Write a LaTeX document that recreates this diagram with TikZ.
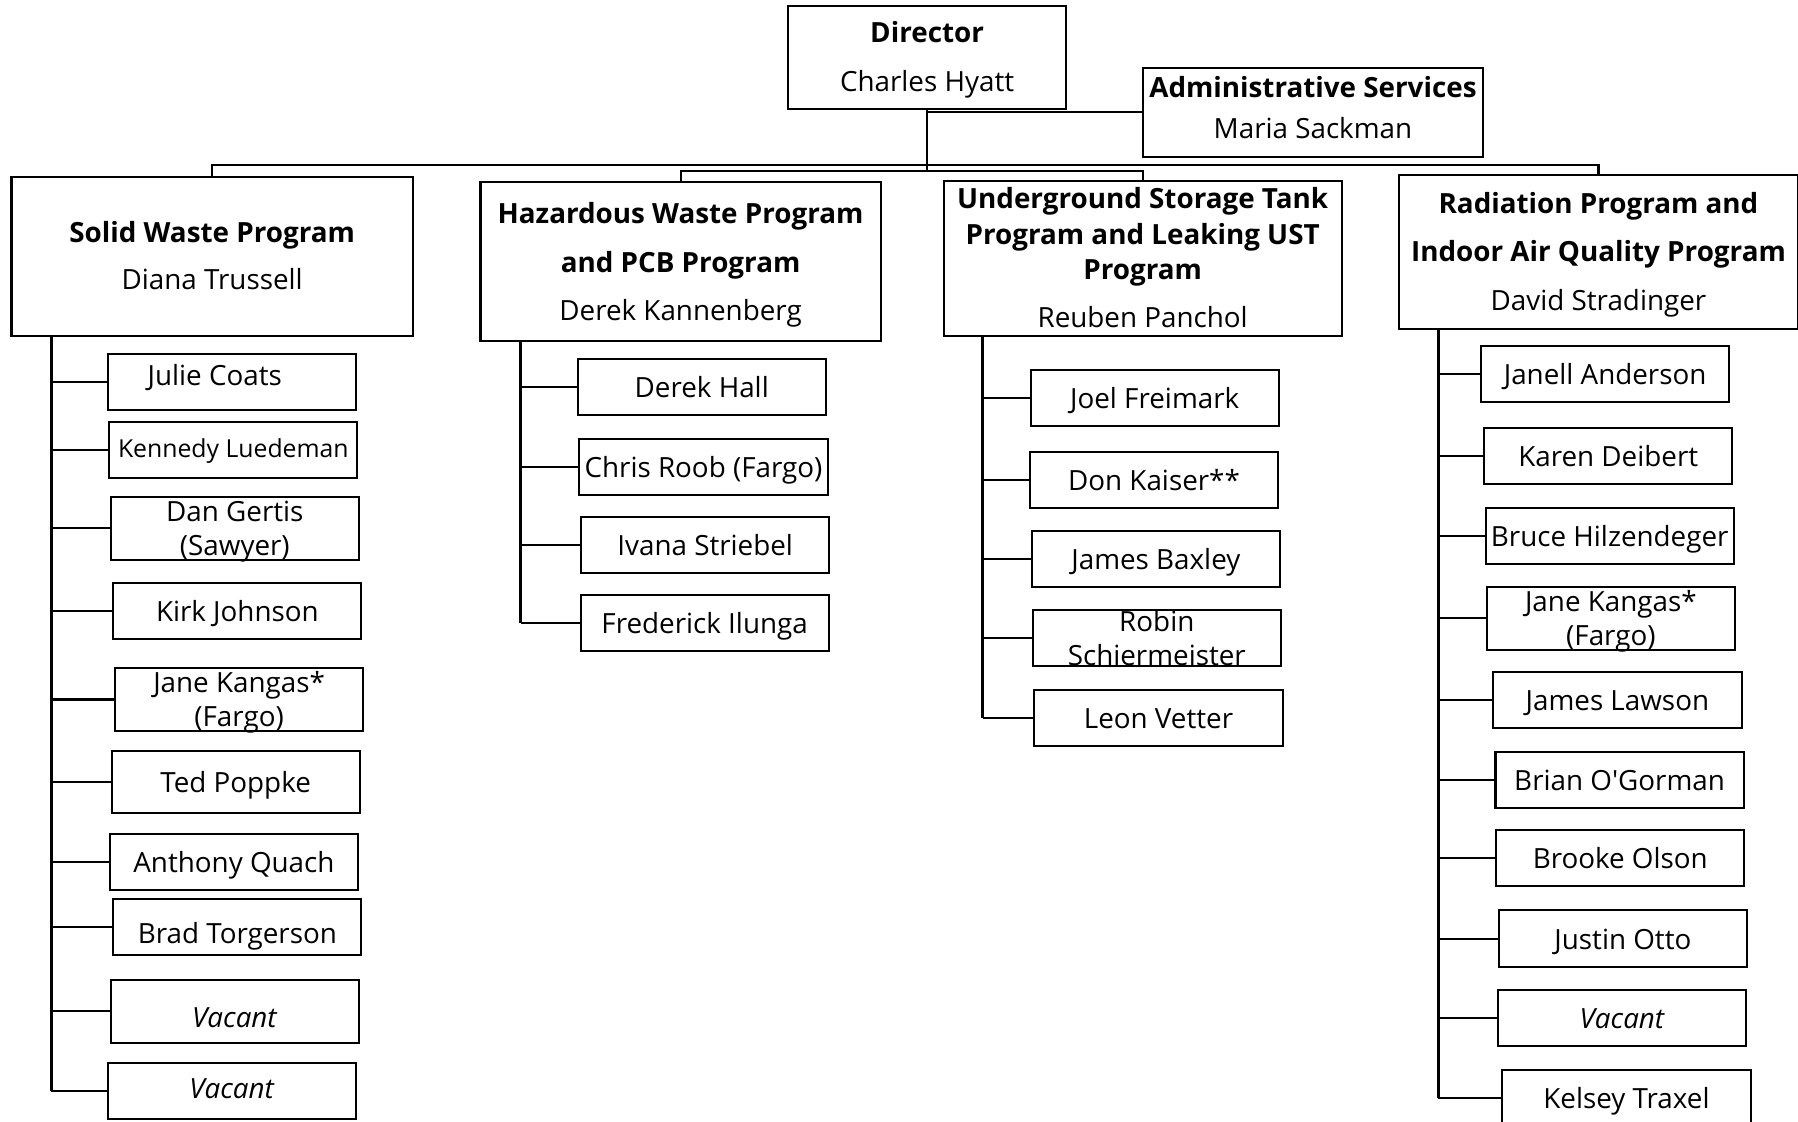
\documentclass[tikz,border=0pt]{standalone}
\usepackage{fontspec}
\setmainfont{Open Sans}
\newcommand{\twoline}[2]{\smash{\begin{tabular}[c]{@{}c@{}}#1\\#2\end{tabular}}}
\newcommand{\headtext}[2]{\raisebox{#1}[\height][\depth]{\begin{tabular}{@{}c@{}}#2\end{tabular}}}
\tikzset{
  head/.style={draw, line width=1pt, inner sep=0pt, font=\fontsize{13.8}{17}\selectfont},
  staff/.style={draw, line width=1pt, inner sep=0pt, minimum width=4.33cm, minimum height=0.98cm,
    text height=12pt, text depth=1.6pt, font=\fontsize{13.8}{17}\selectfont},
  tall/.style={minimum height=1.09cm},
  link/.style={line width=1pt},
  spine/.style={line width=1.5pt}
}

\begin{document}
\begin{tikzpicture}[x=0.02cm, y=-0.02cm]
    \useasboundingbox (0,0) rectangle (1568,978);
    \clip (0,0) rectangle (1568,978);

    \node[head, minimum width=4.86cm, minimum height=1.8cm] (dir) at (808.5,50) {\headtext{-1.4pt}{\textbf{Director}\\[6.9pt]Charles Hyatt}};
    \node[head, minimum width=5.92cm, minimum height=1.56cm] (adm) at (1145,98) {\headtext{0.6pt}{\textbf{Administrative Services}\\[3pt]Maria Sackman}};

    \node[head, minimum width=7cm, minimum height=2.78cm] (sw) at (185,223.5) {\headtext{-1.4pt}{\textbf{Solid Waste Program}\\[6.3pt]Diana Trussell}};
    \node[head, minimum width=6.98cm, minimum height=2.76cm] (hz) at (593.5,228) {\headtext{-2pt}{\textbf{Hazardous Waste Program}\\[7pt]\textbf{and PCB Program}\\[7pt]Derek Kannenberg}};
    \node[head, minimum width=6.94cm, minimum height=2.7cm] (us) at (996.5,225.5) {\headtext{-1.4pt}{\textbf{Underground Storage Tank}\\[0.6pt]\textbf{Program and Leaking UST}\\[0.6pt]\textbf{Program}\\[7pt]Reuben Panchol}};
    \node[head, minimum width=6.96cm, minimum height=2.68cm] (rd) at (1394,220) {\headtext{-1.4pt}{\textbf{Radiation Program and}\\[7pt]\textbf{Indoor Air Quality Program}\\[7pt]David Stradinger}};

    \node[staff, text height=10pt, text depth=6.4pt] (sw1) at (202.3,332.8) {Julie Coats\hspace*{0.6cm}};
    \node[staff, text height=10pt, text depth=3pt, font=\fontsize{12.3}{15}\selectfont] (sw2) at (203.5,392.5) {Kennedy Luedeman};
    \node[staff, tall] (sw3) at (204.8,460.8) {\twoline{Dan Gertis}{(Sawyer)}};
    \node[staff] (sw4) at (207,533) {Kirk Johnson};
    \node[staff, tall] (sw5) at (208.5,610) {\twoline{Jane Kangas*}{(Fargo)}};
    \node[staff, tall] (sw6) at (205.5,682) {Ted Poppke};
    \node[staff] (sw7) at (204,751.5) {Anthony Quach};
    \node[staff, text height=16.2pt, text depth=0pt] (sw8) at (207,808.5) {Brad Torgerson};
    \node[staff, tall, text height=16pt, text depth=0pt] (sw9) at (204.8,882) {\textit{Vacant}};
    \node[staff, text height=10pt, text depth=3pt] (sw10) at (202.3,951.4) {\textit{Vacant}};

    \node[staff] (hz1) at (612,337.8) {Derek Hall};
    \node[staff] (hz2) at (613.5,407.5) {Chris Roob (Fargo)};
    \node[staff] (hz3) at (615,475.5) {Ivana Striebel};
    \node[staff] (hz4) at (614.5,543.5) {Frederick Ilunga};

    \node[staff] (us1) at (1007,347.4) {Joel Freimark};
    \node[staff] (us2) at (1006.4,418.5) {Don Kaiser**};
    \node[staff] (us3) at (1008,487.8) {James Baxley};
    \node[staff] (us4) at (1008.8,556.5) {\twoline{Robin}{Schiermeister}};
    \node[staff] (us5) at (1010.3,625.8) {Leon Vetter};

    \node[staff] (rd1) at (1399.8,326.2) {Janell Anderson};
    \node[staff] (rd2) at (1402.5,397.5) {Karen Deibert};
    \node[staff] (rd3) at (1403.8,467.2) {Bruce Hilzendeger};
    \node[staff, tall] (rd4) at (1404.8,539.2) {\twoline{Jane Kangas*}{(Fargo)}};
    \node[staff] (rd5) at (1410.5,610.5) {James Lawson};
    \node[staff] (rd6) at (1412.4,680.5) {Brian O\textquotesingle Gorman};
    \node[staff] (rd7) at (1413,748.5) {Brooke Olson};
    \node[staff] (rd8) at (1415.3,818.5) {Justin Otto};
    \node[staff] (rd9) at (1414.8,887.5) {\textit{Vacant}};
    \node[staff] (rd10) at (1418.4,957.5) {Kelsey Traxel};

    \coordinate (busA) at (808.5,143.5);
    \coordinate (busB) at (808.5,149.5);
    \draw[link] (dir.south) -- (busB);
    \draw[link] (dir.south |- adm.west) -- (adm.west);
    \draw[link] (sw.north) |- (busA) -| (rd.north);
    \draw[link] (hz.north) |- (busB) -| (us.north);

    \coordinate (swb) at ([xshift=0.71cm]sw.south west);
    \coordinate (hzb) at ([xshift=0.72cm]hz.south west);
    \coordinate (usb) at ([xshift=0.7cm]us.south west);
    \coordinate (rdb) at ([xshift=0.7cm]rd.south west);

    \draw[spine] (swb) -- (swb |- sw10.west);
    \draw[spine] (hzb) -- (hzb |- hz4.west);
    \draw[spine] (usb) -- (usb |- us5.west);
    \draw[spine] (rdb) -- (rdb |- rd10.west);

    \draw[link] (swb |- sw1.west) -- (sw1.west) (swb |- sw2.west) -- (sw2.west)
        (swb |- sw3.west) -- (sw3.west) (swb |- sw4.west) -- (sw4.west)
        (swb |- sw5.west) -- (sw5.west) (swb |- sw6.west) -- (sw6.west)
        (swb |- sw7.west) -- (sw7.west) (swb |- sw8.west) -- (sw8.west)
        (swb |- sw9.west) -- (sw9.west) (swb |- sw10.west) -- (sw10.west);
    \draw[link] (hzb |- hz1.west) -- (hz1.west) (hzb |- hz2.west) -- (hz2.west)
        (hzb |- hz3.west) -- (hz3.west) (hzb |- hz4.west) -- (hz4.west);
    \draw[link] (usb |- us1.west) -- (us1.west) (usb |- us2.west) -- (us2.west)
        (usb |- us3.west) -- (us3.west) (usb |- us4.west) -- (us4.west)
        (usb |- us5.west) -- (us5.west);
    \draw[link] (rdb |- rd1.west) -- (rd1.west) (rdb |- rd2.west) -- (rd2.west)
        (rdb |- rd3.west) -- (rd3.west) (rdb |- rd4.west) -- (rd4.west)
        (rdb |- rd5.west) -- (rd5.west) (rdb |- rd6.west) -- (rd6.west)
        (rdb |- rd7.west) -- (rd7.west) (rdb |- rd8.west) -- (rd8.west)
        (rdb |- rd9.west) -- (rd9.west) (rdb |- rd10.west) -- (rd10.west);
\end{tikzpicture}
\end{document}
